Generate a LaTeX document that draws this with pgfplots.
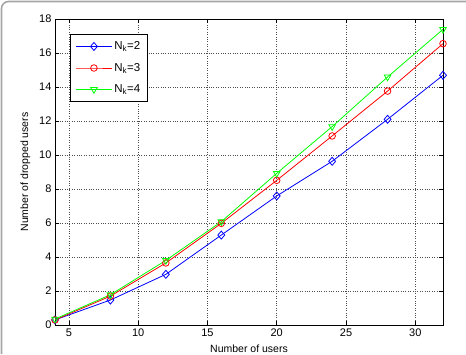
\documentclass[border=0pt]{standalone}
\usepackage{pgfplots}
\pgfplotsset{compat=1.18}
\usepackage{fontspec}
\setmainfont{Liberation Sans}
\begin{document}
\begin{tikzpicture}
\useasboundingbox (0,0) rectangle (466pt,354pt);
\draw[gray!70, line width=1.6pt, rounded corners=7pt] (1.5pt,0) -- (1.5pt,352.5pt) -- (466pt,352.5pt);
\begin{axis}[
  at={(55pt,29pt)}, anchor=south west,
  scale only axis, width=388pt, height=306pt,
  xmin=4, xmax=32, ymin=0, ymax=18,
  xtick={5,10,15,20,25,30}, ytick={0,2,...,18},
  grid=major, major grid style={black!70, dotted, line width=0.5pt},
  tick align=inside, tick pos=both, major tick length=4pt,
  axis line style={line width=0.8pt},
  tick style={black, line width=0.6pt},
  ticklabel style={font=\fontsize{11}{12}\selectfont},
  /pgf/number format/assume math mode=true,
  xlabel={Number of users}, ylabel={Number of dropped users},
  label style={font=\fontsize{10.5}{12}\selectfont},
  xlabel style={yshift=-1.5pt},
  ylabel style={yshift=2pt},
  legend style={at={(0.039,0.95)}, anchor=north west, draw=black, line width=0.8pt,
    font=\fontsize{11.5}{13}\selectfont, row sep=8pt, inner xsep=5pt, inner ysep=5pt},
  legend cell align=left,
  legend image code/.code={\draw[mark repeat=2,mark phase=2] plot coordinates {(0pt,0pt) (18pt,0pt) (36pt,0pt)};},
]
\addplot[blue, line width=0.8pt, mark=diamond, mark size=4pt, mark options={solid, xscale=1.15, line width=0.8pt}] coordinates {
(4,0.3) (8,1.47) (12,2.98) (16,5.29) (20,7.59) (24,9.63) (28,12.1) (32,14.69)};
\addlegendentry{N$_{\mathrm{k}}$=2}
\addplot[red, line width=0.8pt, mark=o, mark size=3.3pt, mark options={solid, line width=0.8pt}] coordinates {
(4,0.3) (8,1.7) (12,3.65) (16,5.98) (20,8.51) (24,11.12) (28,13.76) (32,16.55)};
\addlegendentry{N$_{\mathrm{k}}$=3}
\addplot[green, line width=0.8pt, mark=triangle, mark size=3.8pt, mark options={solid, rotate=180, line width=0.8pt}] coordinates {
(4,0.35) (8,1.78) (12,3.8) (16,6.08) (20,8.92) (24,11.67) (28,14.59) (32,17.39)};
\addlegendentry{N$_{\mathrm{k}}$=4}
\end{axis}
\end{tikzpicture}
\end{document}
